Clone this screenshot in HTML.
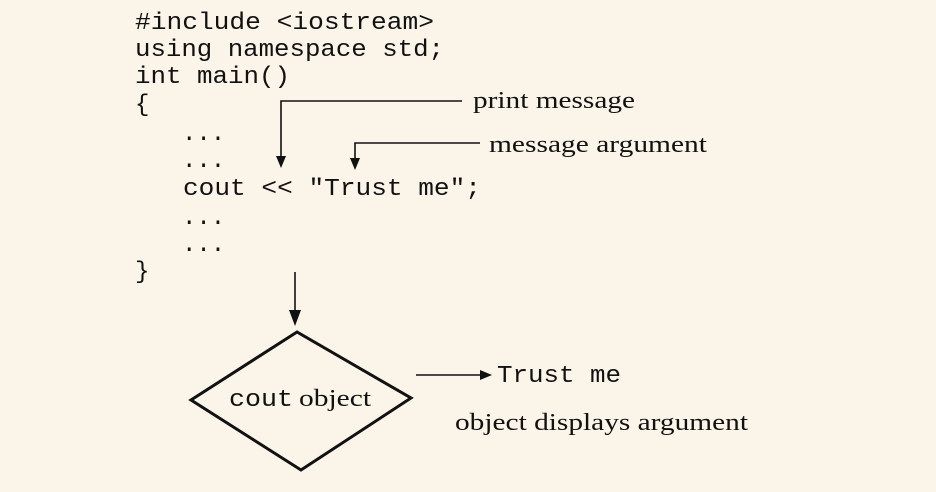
<!DOCTYPE html>
<html><head><meta charset="utf-8"><style>
html,body{margin:0;padding:0;background:#faf4e9;}
svg{display:block}
.m{font-family:"Liberation Mono",monospace;font-size:24px;fill:#111}
.s{font-family:"Liberation Serif",serif;font-size:24px;fill:#111}
</style></head><body>
<svg width="936" height="492" viewBox="0 0 936 492">
<rect width="936" height="492" fill="#faf4e9"/>
<g class="m">
<text x="135" y="29" textLength="299" lengthAdjust="spacingAndGlyphs">#include &lt;iostream&gt;</text>
<text x="135" y="56" textLength="309" lengthAdjust="spacingAndGlyphs">using namespace std;</text>
<text x="135" y="83" textLength="155" lengthAdjust="spacingAndGlyphs">int main()</text>
<text x="135" y="111">{</text>
<text x="182" y="140">...</text>
<text x="182" y="167">...</text>
<text x="183" y="195" textLength="298" lengthAdjust="spacingAndGlyphs">cout &lt;&lt; "Trust me";</text>
<text x="182" y="224">...</text>
<text x="182" y="251">...</text>
<text x="135" y="278">}</text>
<text x="229" y="406" textLength="64" lengthAdjust="spacingAndGlyphs">cout</text>
<text x="497" y="382" textLength="124" lengthAdjust="spacingAndGlyphs">Trust me</text>
</g>
<g class="s">
<text x="473" y="108" textLength="162" lengthAdjust="spacingAndGlyphs">print message</text>
<text x="489" y="152" textLength="218" lengthAdjust="spacingAndGlyphs">message argument</text>
<text x="299" y="406" textLength="72" lengthAdjust="spacingAndGlyphs">object</text>
<text x="455" y="430" textLength="293" lengthAdjust="spacingAndGlyphs">object displays argument</text>
</g>
<g stroke="#111" stroke-width="1.6" fill="none">
<polyline points="462,101 281,101 281,158"/>
<polyline points="480,143 355,143 355,160"/>
<line x1="295" y1="272" x2="295" y2="312"/>
<line x1="416" y1="375" x2="482" y2="375"/>
<polygon points="297,332 191,400 301,470 411,398" stroke-width="3"/>
</g>
<g fill="#111">
<polygon points="276,156 286,156 281,168"/>
<polygon points="350,158 360,158 355,170"/>
<polygon points="289,310 301,310 295,326"/>
<polygon points="480,370 480,380 492,375"/>
</g>
</svg>
</body></html>
